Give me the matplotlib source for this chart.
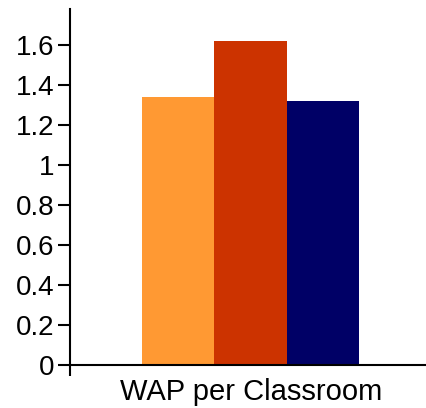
import matplotlib
matplotlib.use('Agg')
import matplotlib.pyplot as plt

# data
category = 'WAP per Classroom'
values = [1.34, 1.62, 1.32]
colors = ['#FF9933', '#CC3300', '#000066']
yticks = [0, 0.2, 0.4, 0.6, 0.8, 1, 1.2, 1.4, 1.6]
ytick_labels = ['0', '0.2', '0.4', '0.6', '0.8', '1', '1.2', '1.4', '1.6']

plt.rcParams['font.family'] = ['Liberation Sans', 'DejaVu Sans']

fig = plt.figure(figsize=(4.26, 4.08), dpi=100)
ax = fig.add_axes([70 / 426, 1 - 365 / 408, 356 / 426, 356 / 408])

pos = list(range(len(values)))
ax.bar(pos, values, width=1.0, color=colors)

ax.set_xlim(-1.494, 3.42)
ax.set_ylim(0, 1.78)

ax.set_yticks(yticks)
ax.set_yticklabels(ytick_labels, fontsize=20)
ax.tick_params(axis='y', length=8.5, width=1.5, direction='out', pad=3)

ax.set_xticks([1])
ax.set_xticklabels([category], fontsize=21)
ax.tick_params(axis='x', which='major', length=0, pad=9)
ax.set_xticks([-1.494], minor=True)
ax.tick_params(axis='x', which='minor', length=8, width=1.5, direction='out')

for s in ['top', 'right']:
    ax.spines[s].set_visible(False)
for s in ['left', 'bottom']:
    ax.spines[s].set_linewidth(1.5)

fig.savefig('out.png', dpi=100)
